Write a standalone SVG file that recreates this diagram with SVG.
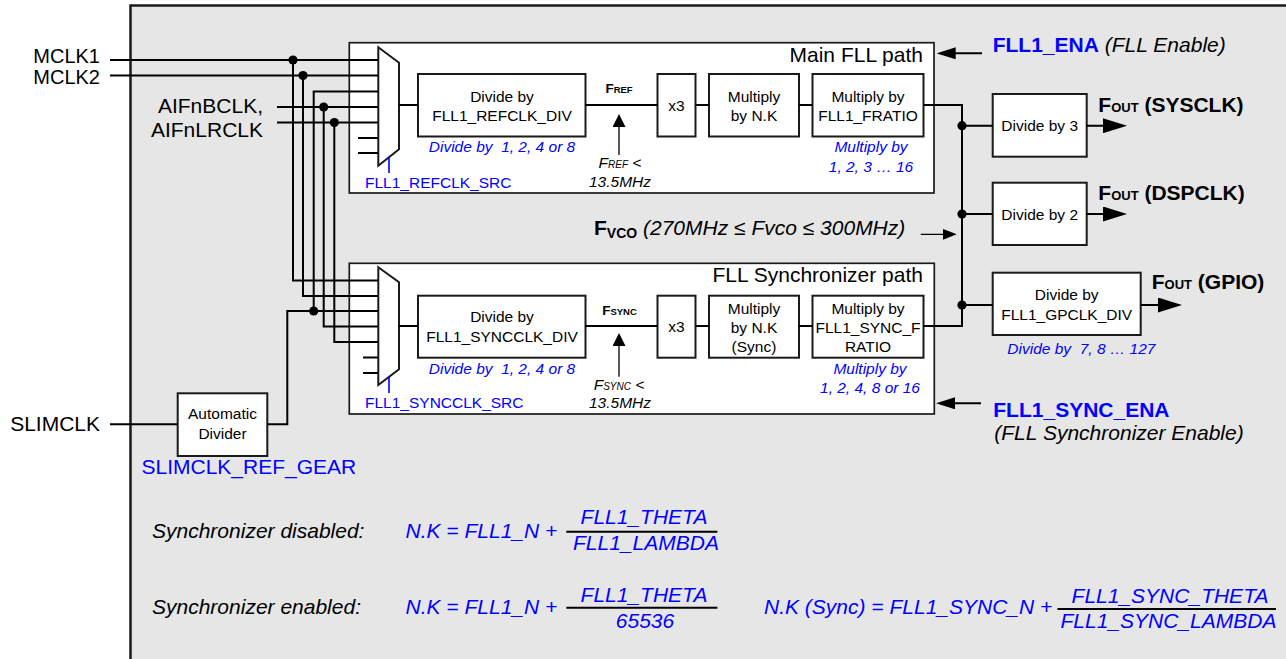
<svg xmlns="http://www.w3.org/2000/svg" width="1286" height="659" viewBox="0 0 1286 659">
<defs>
<style>
text{font-family:"Liberation Sans",Arial,sans-serif;fill:#000}
.l{font-size:21px}
.s{font-size:15.5px}
.bl{fill:#0000ff}
.i{font-style:italic}
.b{font-weight:bold}
.m{text-anchor:middle}
.e{text-anchor:end}
.box{fill:#fff;stroke:#1a1a1a;stroke-width:2}
.pan{fill:#fff;stroke:#1a1a1a;stroke-width:1.7}
.w{fill:none;stroke:#000;stroke-width:2}
.th{fill:none;stroke:#000;stroke-width:1.3}
.sel{fill:none;stroke:#0000ff;stroke-width:1.6}
.dot{fill:#000}
.frac{stroke:#000;stroke-width:2}
</style>
<marker id="aOut" markerUnits="userSpaceOnUse" markerWidth="24" markerHeight="15" refX="20" refY="7.5" orient="auto"><path d="M0,0 L24,7.5 L0,15 z" fill="#000"/></marker>
<marker id="aEna" markerUnits="userSpaceOnUse" markerWidth="19" markerHeight="12" refX="15" refY="6" orient="auto"><path d="M0,0 L19,6 L0,12 z" fill="#000"/></marker>
<marker id="aUp" markerUnits="userSpaceOnUse" markerWidth="13" markerHeight="13" refX="9" refY="6.5" orient="auto"><path d="M0,0 L13,6.5 L0,13 z" fill="#000"/></marker>
<marker id="aVco" markerUnits="userSpaceOnUse" markerWidth="14" markerHeight="11" refX="11" refY="5.5" orient="auto"><path d="M0,0 L14,5.5 L0,11 z" fill="#000"/></marker>
</defs>

<rect width="1286" height="659" fill="#fff"/>
<rect id="chip" x="130.5" y="5.5" width="1170" height="670" fill="#e6e6e6" stroke="#1a1a1a" stroke-width="2.5"/>

<g id="inputs">
<text class="e" font-size="20px" x="100" y="63">MCLK1</text>
<text class="e" font-size="20px" x="100" y="83.5">MCLK2</text>
<text class="l e" x="263" y="112.5">AIFnBCLK,</text>
<text class="l e" x="263" y="136.5">AIFnLRCLK</text>
<text class="l e" x="100" y="431">SLIMCLK</text>
</g>

<g id="main-path">
<rect class="pan" x="349.3" y="42.7" width="584.7" height="150.3"/>
<text class="l e" x="923" y="61.7">Main FLL path</text>
</g>
<g id="sync-path">
<rect class="pan" x="349.3" y="263.3" width="585" height="150.7"/>
<text class="l e" x="923" y="282.3">FLL Synchronizer path</text>
</g>

<g id="auto-divider">
<rect class="box" x="177.7" y="393.3" width="89.6" height="62.7"/>
<text class="s m" x="222.5" y="418.5">Automatic</text>
<text class="s m" x="222.5" y="438.5">Divider</text>
<text class="l bl" x="141.5" y="474">SLIMCLK_REF_GEAR</text>
</g>

<g id="mux-main">
<polygon class="box" points="378.3,47.3 399,62.7 399,149.3 378.3,165.7"/>
<text class="s bl" x="365" y="188.3">FLL1_REFCLK_SRC</text>
</g>
<g id="mux-sync">
<polygon class="box" points="378.3,267.3 399,282.3 399,369.3 378.3,385"/>
<text class="s bl" x="365" y="408.3">FLL1_SYNCCLK_SRC</text>
</g>

<g id="refclk-div">
<rect class="box" x="418" y="74" width="167.5" height="62.5"/>
<text class="s m" x="502" y="101.5">Divide by</text>
<text class="s m" x="502" y="120.5">FLL1_REFCLK_DIV</text>
<text class="s m i bl" x="502" y="152.3">Divide by&#160; 1, 2, 4 or 8</text>
</g>
<g id="fref">
<text class="b m" x="619" y="93"><tspan font-size="13.5px">F</tspan><tspan font-size="9.5px">REF</tspan></text>
<text class="i m" x="620" y="167.7"><tspan font-size="15.5px">F</tspan><tspan font-size="10px">REF</tspan><tspan font-size="15.5px"> &lt;</tspan></text>
<text class="s i m" x="620" y="186.7">13.5MHz</text>
</g>
<g id="x3-main">
<rect class="box" x="657.5" y="74" width="38" height="62.5"/>
<text class="s m" x="676.5" y="110.5">x3</text>
</g>
<g id="nk-main">
<rect class="box" x="709" y="74" width="90" height="62.5"/>
<text class="s m" x="754" y="101.5">Multiply</text>
<text class="s m" x="754" y="120.5">by N.K</text>
</g>
<g id="fratio-main">
<rect class="box" x="812.5" y="74" width="111" height="62.5"/>
<text class="s m" x="868" y="101.5">Multiply by</text>
<text class="s m" x="868" y="120.5">FLL1_FRATIO</text>
<text class="s m i bl" x="871" y="152.3">Multiply by</text>
<text class="s m i bl" x="871" y="171.7">1, 2, 3 … 16</text>
</g>

<g id="syncclk-div">
<rect class="box" x="418" y="295.7" width="167.5" height="62"/>
<text class="s m" x="502" y="322">Divide by</text>
<text class="s m" x="502" y="341.5">FLL1_SYNCCLK_DIV</text>
<text class="s m i bl" x="502" y="374">Divide by&#160; 1, 2, 4 or 8</text>
</g>
<g id="fsync">
<text class="b m" x="619.5" y="315"><tspan font-size="13.5px">F</tspan><tspan font-size="9.5px">SYNC</tspan></text>
<text class="i m" x="619" y="389.5"><tspan font-size="15.5px">F</tspan><tspan font-size="10px">SYNC</tspan><tspan font-size="15.5px"> &lt;</tspan></text>
<text class="s i m" x="620" y="408.3">13.5MHz</text>
</g>
<g id="x3-sync">
<rect class="box" x="657.5" y="295.7" width="38" height="62"/>
<text class="s m" x="676.5" y="332">x3</text>
</g>
<g id="nk-sync">
<rect class="box" x="709" y="295.7" width="90" height="62"/>
<text class="s m" x="754" y="313.5">Multiply</text>
<text class="s m" x="754" y="332.5">by N.K</text>
<text class="s m" x="754" y="351.5">(Sync)</text>
</g>
<g id="fratio-sync">
<rect class="box" x="812.5" y="295.7" width="111" height="62"/>
<text class="s m" x="868" y="313.5">Multiply by</text>
<text class="s m" x="868" y="332.5">FLL1_SYNC_F</text>
<text class="s m" x="868" y="351.5">RATIO</text>
<text class="s m i bl" x="870" y="374">Multiply by</text>
<text class="s m i bl" x="870" y="393.3">1, 2, 4, 8 or 16</text>
</g>

<g id="ena">
<text class="l" x="992.7" y="51.5"><tspan class="b bl">FLL1_ENA</tspan><tspan class="i"> (FLL Enable)</tspan></text>
</g>
<g id="sync-ena">
<text class="l b bl" x="993.3" y="416.7">FLL1_SYNC_ENA</text>
<text class="l i" x="994.3" y="440">(FLL Synchronizer Enable)</text>
</g>
<g id="fvco">
<text x="594" y="234.5"><tspan class="b" font-size="21px">F</tspan><tspan class="b" font-size="14px" dy="3">VCO</tspan><tspan class="i" font-size="21px" dy="-3"> (270MHz ≤ Fvco ≤ 300MHz)</tspan></text>
</g>

<g id="div3">
<rect class="box" x="992.7" y="94" width="94" height="62.7"/>
<text class="s m" x="1039.7" y="131">Divide by 3</text>
<text x="1098.3" y="111.7" class="b"><tspan font-size="21px">F</tspan><tspan font-size="13px">OUT</tspan><tspan font-size="21px"> (SYSCLK)</tspan></text>
</g>
<g id="div2">
<rect class="box" x="992.7" y="182.7" width="94" height="62.3"/>
<text class="s m" x="1039.7" y="219.5">Divide by 2</text>
<text x="1098.3" y="200" class="b"><tspan font-size="21px">F</tspan><tspan font-size="13px">OUT</tspan><tspan font-size="21px"> (DSPCLK)</tspan></text>
</g>
<g id="gpclk-div">
<rect class="box" x="992.7" y="272.7" width="148" height="62.3"/>
<text class="s m" x="1066.7" y="300">Divide by</text>
<text class="s m" x="1066.7" y="319.5">FLL1_GPCLK_DIV</text>
<text class="s i bl" x="1007.3" y="354.3">Divide by&#160; 7, 8 … 127</text>
<text x="1151.7" y="289.3" class="b"><tspan font-size="21px">F</tspan><tspan font-size="13px">OUT</tspan><tspan font-size="21px"> (GPIO)</tspan></text>
</g>

<g id="connectors">
<path class="w" d="M110,60 H378 M110,75.5 H378 M277,107 H378 M277,122.5 H378"/>
<path class="w" d="M293,60 V280.5 H378 M303,75.5 V296 H378 M378,91.5 H313.7 V311 M323.7,107 V326.5 H378 M334.3,122.5 V342 H378"/>
<path class="w" d="M358,138 H378 M358,153 H378 M363,357.5 H378 M363,373 H378"/>
<path class="w" d="M110,424.3 H177.7 M267.3,424.3 H287.3 V311 H378"/>
<path class="w" d="M399,105 H418 M585.5,105 H657.5 M695.5,105 H709 M799,105 H812.5 M923.5,105 H962 V326 H923.5"/>
<path class="w" d="M399,326 H418 M585.5,326 H657.5 M695.5,326 H709 M799,326 H812.5"/>
<path class="w" d="M962,125.7 H992.7 M962,214 H992.7 M962,305 H992.7"/>
<path class="w" marker-end="url(#aOut)" d="M1086.7,125.7 H1123"/>
<path class="w" marker-end="url(#aOut)" d="M1086.7,214 H1123"/>
<path class="w" marker-end="url(#aOut)" d="M1140.7,305 H1178"/>
<path class="w" marker-end="url(#aEna)" d="M982,53.3 H940.7"/>
<path class="w" marker-end="url(#aEna)" d="M981,403.3 H940"/>
<path class="th" marker-end="url(#aVco)" d="M920.7,234.3 H953.7"/>
<path class="th" marker-end="url(#aUp)" d="M619,155 V118"/>
<path class="th" marker-end="url(#aUp)" d="M619,376.7 V337"/>
<path class="sel" d="M389,157 V173 M389,377 V393"/>
<circle class="dot" cx="293" cy="60" r="4.6"/>
<circle class="dot" cx="303" cy="75.5" r="4.6"/>
<circle class="dot" cx="323.7" cy="107" r="4.6"/>
<circle class="dot" cx="334.3" cy="122.5" r="4.6"/>
<circle class="dot" cx="313.7" cy="311" r="4.6"/>
<circle class="dot" cx="962" cy="125.7" r="4.6"/>
<circle class="dot" cx="962" cy="214" r="4.6"/>
<circle class="dot" cx="962" cy="305" r="4.6"/>
</g>

<g id="equations">
<text class="l i" x="152" y="538">Synchronizer disabled:</text>
<text class="l i bl" x="405.5" y="538">N.K = FLL1_N +</text>
<line class="frac" x1="566.3" y1="531.7" x2="717.4" y2="531.7"/>
<text class="l i bl m" x="644" y="524">FLL1_THETA</text>
<text class="l i bl m" x="646" y="550">FLL1_LAMBDA</text>
<text class="l i" x="152" y="613.5">Synchronizer enabled:</text>
<text class="l i bl" x="405.5" y="613.5">N.K = FLL1_N +</text>
<line class="frac" x1="566.3" y1="607.7" x2="717.4" y2="607.7"/>
<text class="l i bl m" x="644" y="601.7">FLL1_THETA</text>
<text class="l i bl m" x="645" y="627.5">65536</text>
<text class="l i bl" x="764" y="614.3">N.K (Sync) = FLL1_SYNC_N +</text>
<line class="frac" x1="1057.5" y1="609" x2="1276" y2="609"/>
<text class="l i bl m" x="1170" y="602.7">FLL1_SYNC_THETA</text>
<text class="l i bl m" x="1168.5" y="628.3">FLL1_SYNC_LAMBDA</text>
</g>
</svg>
